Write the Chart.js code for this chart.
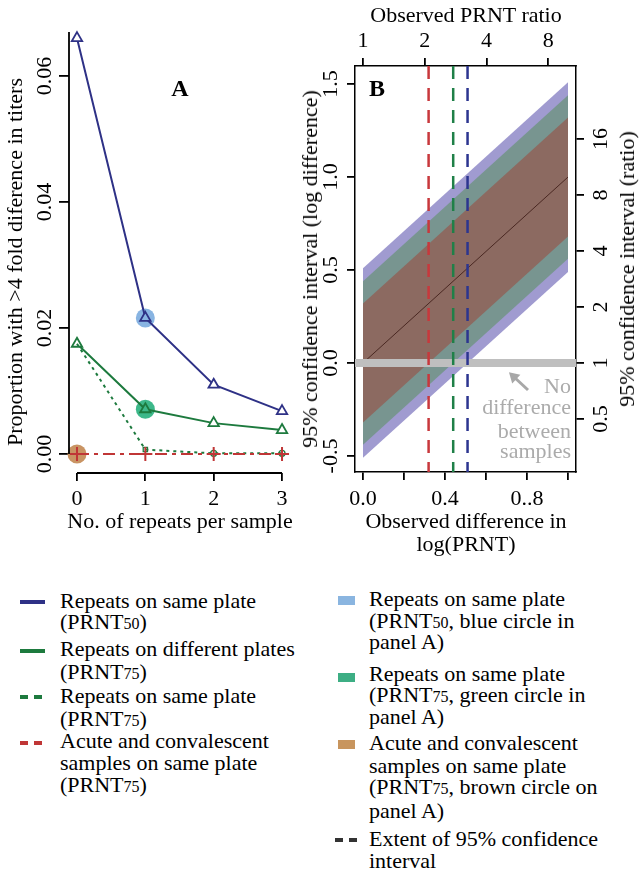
<!DOCTYPE html>
<html><head><meta charset="utf-8">
<script src="https://cdn.jsdelivr.net/npm/chart.js@4.4.1/dist/chart.umd.min.js"></script>
<style>
body{margin:0;background:#fff;}
#wrap{position:relative;width:643px;height:876px;overflow:hidden;font-family:'Liberation Serif','Times New Roman',serif;color:#000;font-size:22px;line-height:22px;}
.t{position:absolute;white-space:nowrap;}
.c{transform:translate(-50%,-50%);}
.r{transform:translate(-50%,-50%) rotate(-90deg);}
.sub{font-size:16px;}
.b{font-weight:bold;font-size:24px;}
.g{color:#ababab;text-align:right;}
canvas{position:absolute;top:0;}
.ln{position:absolute;height:4px;margin-top:-2px;}
.bx{position:absolute;width:17px;height:9px;margin-top:-4px;}
</style></head>
<body><div id="wrap">
<canvas id="ca" width="320" height="540" style="left:0"></canvas>
<canvas id="cb" width="353" height="560" style="left:290px"></canvas>

<div class="t r" style="left:15px;top:262px">Proportion with &gt;4 fold diference in titers</div>
<div class="t c" style="left:180px;top:521px">No. of repeats per sample</div>
<div class="t c b" style="left:180px;top:88px">A</div>

<div class="t r" style="left:310px;top:269px">95% confidence interval (log difference)</div>
<div class="t r" style="left:627px;top:269px">95% confidence interval (ratio)</div>
<div class="t c" style="left:466px;top:15px">Observed PRNT ratio</div>
<div class="t c" style="left:466px;top:521px">Observed difference in</div>
<div class="t c" style="left:466px;top:544px">log(PRNT)</div>
<div class="t c b" style="left:377px;top:88px">B</div>

<div class="t g" style="right:72px;top:375px">No</div>
<div class="t g" style="right:72px;top:396px">difference</div>
<div class="t g" style="right:72px;top:420px">between</div>
<div class="t g" style="right:72px;top:440px">samples</div>

<!-- legend left -->
<div class="ln" style="left:20px;width:25px;top:602px;background:#2e3186"></div>
<div class="ln" style="left:20px;width:25px;top:651px;background:#1d7a3e"></div>
<div class="ln" style="left:20px;width:25px;top:697px;background:repeating-linear-gradient(90deg,#1d7a3e 0 8px,transparent 8px 14px)"></div>
<div class="ln" style="left:20px;width:25px;top:743px;background:repeating-linear-gradient(90deg,#c03636 0 8px,transparent 8px 14px)"></div>
<div class="t" style="left:60px;top:590px">Repeats on same plate</div>
<div class="t" style="left:60px;top:611px">(PRNT<span class="sub">50</span>)</div>
<div class="t" style="left:60px;top:638px">Repeats on different plates</div>
<div class="t" style="left:60px;top:661px">(PRNT<span class="sub">75</span>)</div>
<div class="t" style="left:60px;top:685px">Repeats on same plate</div>
<div class="t" style="left:60px;top:708px">(PRNT<span class="sub">75</span>)</div>
<div class="t" style="left:60px;top:730px">Acute and convalescent</div>
<div class="t" style="left:60px;top:752px">samples on same plate</div>
<div class="t" style="left:60px;top:774px">(PRNT<span class="sub">75</span>)</div>

<!-- legend right -->
<div class="bx" style="left:338px;top:600px;background:#8ab5e0"></div>
<div class="bx" style="left:338px;top:677px;background:#3dae84"></div>
<div class="bx" style="left:338px;top:744px;background:#c8955e"></div>
<div class="ln" style="left:335px;width:25px;top:840px;background:repeating-linear-gradient(90deg,#333 0 8px,transparent 8px 14px)"></div>
<div class="t" style="left:369px;top:588px">Repeats on same plate</div>
<div class="t" style="left:369px;top:610px">(PRNT<span class="sub">50</span>, blue circle in</div>
<div class="t" style="left:369px;top:631px">panel A)</div>
<div class="t" style="left:369px;top:663px">Repeats on same plate</div>
<div class="t" style="left:369px;top:684px">(PRNT<span class="sub">75</span>, green circle in</div>
<div class="t" style="left:369px;top:706px">panel A)</div>
<div class="t" style="left:369px;top:732px">Acute and convalescent</div>
<div class="t" style="left:369px;top:755px">samples on same plate</div>
<div class="t" style="left:369px;top:776px">(PRNT<span class="sub">75</span>, brown circle on</div>
<div class="t" style="left:369px;top:800px">panel A)</div>
<div class="t" style="left:369px;top:828px">Extent of 95% confidence</div>
<div class="t" style="left:369px;top:850px">interval</div>
</div>

<script>
// ---------- Panel A data ----------
const repeats = [0, 1, 2, 3];
const samePlate50 = [0.066, 0.0216, 0.011, 0.0068];
const diffPlates75 = [0.0175, 0.0071, 0.0049, 0.0038];
const samePlate75 = [0.0175, 0.0007, 0.0001, 0.0001];
const acuteConv75 = [0, 0, 0, 0];
const circleRepeat = [1, 1, 0];
const circleProp = [0.0216, 0.0071, 0];
const xTicksA = [0, 1, 2, 3];
const yTicksA = [0, 0.02, 0.04, 0.06];

// ---------- Panel B data ----------
const obsDiff = [0, 1];
const fitLine = [0, 1];
const brownUpper = [0.32, 1.32];
const brownLower = [-0.32, 0.68];
const tealUpper = [0.44, 1.44];
const tealLower = [-0.44, 0.56];
const purpleUpper = [0.51, 1.51];
const purpleLower = [-0.51, 0.49];
const ciExtent = [0.32, 0.44, 0.51];
const noDiffValue = 0;
const xTicksB = [0, 0.2, 0.4, 0.6, 0.8, 1.0];
const xTickLabelsB = ['0.0', '', '0.4', '', '0..8', ''];
const yTicksB = [-0.5, 0, 0.5, 1.0, 1.5];
const prntRatioTicks = [1, 2, 4, 8];
const ratioTicks = [0.5, 1, 2, 4, 8, 16];
const arrowTail = [0.805, -0.145];
const arrowHead = [0.712, -0.05];

// ---------- styles ----------
const BLUE = '#2e3186', GREEN = '#1d7a3e', RED = '#c03636';
const C_BLUE = '#88b4e2', C_GREEN = '#3db88a', C_BROWN = '#c99463';
const FONT = {family: "'Liberation Serif','Times New Roman',serif", size: 22};
const pts = (xs, ys) => xs.map((x, i) => ({x, y: ys[i]}));
const fixTicks = vals => s => { s.ticks = vals.map(v => ({value: v})); };
const gridTicks = len => ({display: true, drawOnChartArea: false, drawTicks: true, tickLength: len, color: '#000', lineWidth: 1.8});

// ---------- Panel A ----------
const XA = {min: -0.117, max: 3.102}, YA = {min: -0.003016, max: 0.06698};
const axesA = {
  id: 'axesA',
  afterDraw(c) {
    const {ctx, chartArea: a, scales: {x, y}} = c;
    ctx.save();
    ctx.strokeStyle = '#000'; ctx.lineWidth = 1.8;
    ctx.beginPath();
    ctx.moveTo(a.left, a.top); ctx.lineTo(a.left, y.getPixelForValue(yTicksA[0]));
    ctx.moveTo(x.getPixelForValue(xTicksA[0]), a.bottom);
    ctx.lineTo(x.getPixelForValue(xTicksA[xTicksA.length - 1]), a.bottom);
    ctx.stroke();
    ctx.restore();
  }
};

new Chart(document.getElementById('ca'), {
  type: 'line',
  data: {datasets: [
    {label: 'Acute and convalescent (PRNT75)', data: pts(repeats, acuteConv75), borderColor: RED, borderWidth: 2,
     borderDash: [12, 5, 4, 5], pointStyle: 'cross', pointRadius: 7, pointBorderWidth: 2, pointBorderColor: RED,
     order: 1, clip: false},
    {label: 'Repeats on same plate (PRNT75)', data: pts(repeats, samePlate75), borderColor: GREEN, borderWidth: 2,
     borderDash: [3, 4], pointStyle: ['circle', 'rect', 'circle', 'circle'], pointRadius: [0, 3, 3, 3], pointBorderWidth: 1.3,
     pointBorderColor: GREEN, pointBackgroundColor: 'rgba(0,0,0,0)', order: 2, clip: false},
    {label: 'Repeats on different plates (PRNT75)', data: pts(repeats, diffPlates75), borderColor: GREEN, borderWidth: 2,
     pointStyle: 'triangle', pointRadius: 6, pointBorderWidth: 1.8, pointBorderColor: GREEN,
     pointBackgroundColor: ['#fff', C_GREEN, '#fff', '#fff'], order: 3, clip: false},
    {label: 'Repeats on same plate (PRNT50)', data: pts(repeats, samePlate50), borderColor: BLUE, borderWidth: 2,
     pointStyle: 'triangle', pointRadius: 6, pointBorderWidth: 1.8, pointBorderColor: BLUE,
     pointBackgroundColor: ['#fff', C_BLUE, '#fff', '#fff'], order: 4, clip: false},
    {label: 'Highlighted points', data: pts(circleRepeat, circleProp), showLine: false, pointRadius: 9.5,
     pointBorderWidth: 0, pointBackgroundColor: [C_BLUE, C_GREEN, C_BROWN], pointBorderColor: 'rgba(0,0,0,0)',
     order: 10, clip: false}
  ]},
  options: {
    responsive: false, animation: false, events: [],
    layout: {padding: {left: 0, top: 32, right: 31, bottom: 0}},
    plugins: {legend: {display: false}, tooltip: {enabled: false}},
    scales: {
      x: {type: 'linear', position: 'bottom', min: XA.min, max: XA.max,
          afterFit: s => { s.height = 67; }, afterBuildTicks: fixTicks(xTicksA),
          grid: gridTicks(8), border: {display: false},
          ticks: {font: FONT, color: '#000', padding: 5, autoSkip: false, maxRotation: 0, callback: v => String(v)}},
      y: {type: 'linear', position: 'left', min: YA.min, max: YA.max,
          afterFit: s => { s.width = 69; }, afterBuildTicks: fixTicks(yTicksA),
          grid: gridTicks(10), border: {display: false},
          ticks: {font: FONT, color: '#000', padding: -5, minRotation: 90, maxRotation: 90, crossAlign: 'center',
                  autoSkip: false, callback: v => v.toFixed(2)}}
    }
  },
  plugins: [axesA]
});

// ---------- Panel B ----------
const XB = {min: -0.039, max: 1.039}, YB = {min: -0.586, max: 1.597};
const arrowB = {
  id: 'arrowB',
  afterDatasetsDraw(c) {
    const {ctx, scales: {x, y}} = c;
    const x1 = x.getPixelForValue(arrowTail[0]), y1 = y.getPixelForValue(arrowTail[1]);
    const x2 = x.getPixelForValue(arrowHead[0]), y2 = y.getPixelForValue(arrowHead[1]);
    const ang = Math.atan2(y2 - y1, x2 - x1), hl = 10, hw = 6;
    ctx.save();
    ctx.strokeStyle = '#a8a8a8'; ctx.fillStyle = '#a8a8a8'; ctx.lineWidth = 3;
    ctx.beginPath();
    ctx.moveTo(x1, y1);
    ctx.lineTo(x2 - Math.cos(ang) * hl * 0.8, y2 - Math.sin(ang) * hl * 0.8);
    ctx.stroke();
    ctx.beginPath();
    ctx.moveTo(x2, y2);
    ctx.lineTo(x2 - Math.cos(ang) * hl - Math.sin(ang) * hw, y2 - Math.sin(ang) * hl + Math.cos(ang) * hw);
    ctx.lineTo(x2 - Math.cos(ang) * hl + Math.sin(ang) * hw, y2 - Math.sin(ang) * hl - Math.cos(ang) * hw);
    ctx.closePath(); ctx.fill();
    ctx.restore();
  }
};
const band = (ys, color, fill, order) => ({data: pts(obsDiff, ys), borderColor: 'rgba(0,0,0,0)', borderWidth: 0,
  pointRadius: 0, backgroundColor: color, fill: fill, order: order});
const vline = (xv, color) => ({data: pts([xv, xv], [YB.max, YB.min]), borderColor: color, borderWidth: 2.5,
  borderDash: [13, 9], pointRadius: 0, fill: false, order: 0, clip: 0});
const border = {display: true, color: '#000', width: 1.5};

new Chart(document.getElementById('cb'), {
  type: 'line',
  data: {datasets: [
    vline(ciExtent[0], '#c8383c'),
    vline(ciExtent[1], '#1f8048'),
    vline(ciExtent[2], '#2c3590'),
    {data: pts([XB.min, XB.max], [noDiffValue, noDiffValue]), borderColor: '#bfbfbf', borderWidth: 8, pointRadius: 0, fill: false, order: 1, clip: 0},
    {data: pts(obsDiff, fitLine), borderColor: '#4a2822', borderWidth: 1, pointRadius: 0, fill: false, order: 2, clip: 0},
    band(brownUpper, '#8c6a61', '+1', 3),
    band(brownLower, '#8c6a61', false, 3),
    band(tealUpper, '#789590', '+1', 4),
    band(tealLower, '#789590', false, 4),
    band(purpleUpper, '#a09bd0', '+1', 5),
    band(purpleLower, '#a09bd0', false, 5)
  ]},
  options: {
    responsive: false, animation: false, events: [],
    layout: {padding: 0},
    plugins: {legend: {display: false}, tooltip: {enabled: false}},
    scales: {
      x: {type: 'linear', axis: 'x', position: 'bottom', min: XB.min, max: XB.max,
          afterFit: s => { s.height = 88; }, afterBuildTicks: fixTicks(xTicksB),
          grid: gridTicks(8), border: border,
          ticks: {font: FONT, color: '#000', padding: 6.5, autoSkip: false, maxRotation: 0,
                  callback: (v, i) => xTickLabelsB[i]}},
      x2: {type: 'linear', axis: 'x', position: 'top', min: XB.min, max: XB.max,
          afterFit: s => { s.height = 66; }, afterBuildTicks: fixTicks(prntRatioTicks.map(Math.log10)),
          grid: gridTicks(8), border: border,
          ticks: {font: FONT, color: '#000', padding: 4, autoSkip: false, maxRotation: 0,
                  callback: (v, i) => String(prntRatioTicks[i])}},
      y: {type: 'linear', axis: 'y', position: 'left', min: YB.min, max: YB.max,
          afterFit: s => { s.width = 65; }, afterBuildTicks: fixTicks(yTicksB),
          grid: gridTicks(8), border: border,
          ticks: {font: FONT, color: '#000', padding: -2, minRotation: 90, maxRotation: 90, crossAlign: 'center',
                  autoSkip: false, callback: v => v.toFixed(1)}},
      y2: {type: 'linear', axis: 'y', position: 'right', min: YB.min, max: YB.max,
          afterFit: s => { s.width = 67; }, afterBuildTicks: fixTicks(ratioTicks.map(Math.log10)),
          grid: gridTicks(8), border: border,
          ticks: {font: FONT, color: '#000', padding: 3, minRotation: 90, maxRotation: 90, crossAlign: 'center',
                  autoSkip: false, callback: (v, i) => String(ratioTicks[i])}}
    }
  },
  plugins: [arrowB]
});
</script>
</body></html>
